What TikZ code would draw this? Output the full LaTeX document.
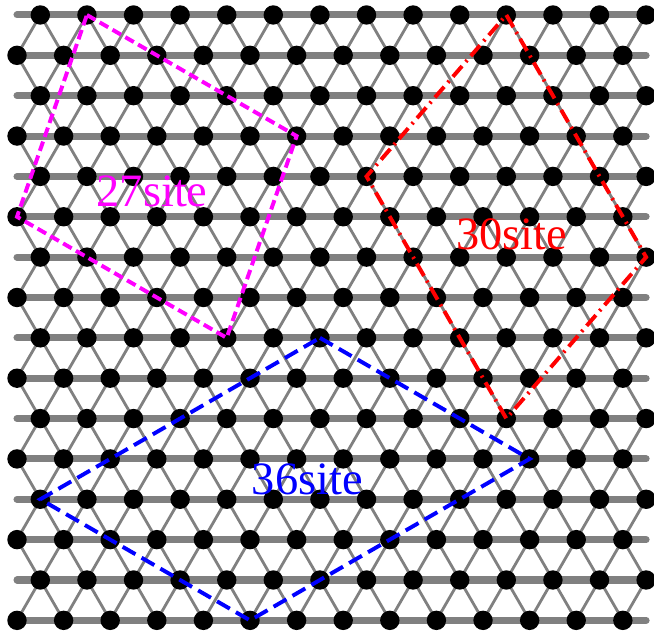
\documentclass[tikz,border=0pt]{standalone}
\usepackage{fontspec}
\setmainfont{Liberation Serif}
\definecolor{bondgray}{HTML}{808080}
\definecolor{cellmag}{HTML}{FF00FF}
\definecolor{cellred}{HTML}{FF0000}
\definecolor{cellblue}{HTML}{0000FF}
\tikzset{
	site/.style={circle, fill=black, inner sep=0pt, minimum size=0.485cm},
	rowbond/.style={draw=bondgray, line width=5pt, line cap=round},
	bond/.style={draw=bondgray, line width=2pt},
	cellA/.style={cellmag, line width=2.8pt, dash pattern=on 7pt off 3.5pt},
	cellB/.style={cellred, line width=2.8pt, dash pattern=on 10pt off 4pt on 1.5pt off 4pt},
	cellC/.style={cellblue, line width=2.8pt, dash pattern=on 10.5pt off 5pt},
	tag/.style={font=\fontsize{33}{40}\selectfont, anchor=base, inner sep=0pt},
}

\begin{document}
\begin{tikzpicture}[x=1.165cm, y=1.165cm]
	\useasboundingbox (-0.365,-0.365) rectangle (13.669,13.312);
	\foreach \j in {0,...,15}{
		\pgfmathsetmacro\rowy{(15-\j)*0.8660254}
		\coordinate (l-\j) at (0,\rowy);
		\coordinate (r-\j) at (13.5,\rowy);
		\foreach \k in {0,...,13}{
			\ifodd\j
				\coordinate (p-\j-\k) at (\k,\rowy);
			\else
				\coordinate (p-\j-\k) at (\k+0.5,\rowy);
			\fi
		}
	}
	\foreach \j in {0,...,15}
		\draw[rowbond] (l-\j) -- (r-\j);
	\foreach \j in {0,...,14}{
		\pgfmathtruncatemacro\jn{\j+1}
		\foreach \k in {0,...,13}{
			\pgfmathtruncatemacro\kl{\k-1}
			\pgfmathtruncatemacro\kr{\k+1}
			\ifodd\j
				\ifnum\k>0 \draw[bond] (p-\j-\k) -- (p-\jn-\kl); \fi
				\draw[bond] (p-\j-\k) -- (p-\jn-\k);
			\else
				\draw[bond] (p-\j-\k) -- (p-\jn-\k);
				\ifnum\k<13 \draw[bond] (p-\j-\k) -- (p-\jn-\kr); \fi
			\fi
		}
	}
	\foreach \j in {0,...,15}
		\foreach \k in {0,...,13}
			\node[site] (s-\j-\k) at (p-\j-\k) {};
	\draw[cellA] (p-0-1) -- (p-3-6) -- (p-8-4) -- (p-5-0) -- cycle;
	\draw[cellB] (p-0-10) -- (p-6-13) -- (p-10-10) -- (p-4-7) -- cycle;
	\draw[cellC] (p-8-6) -- (p-11-11) -- (p-15-5) -- (p-12-0) -- cycle;
	\node[tag, cellmag] (lab27) at (2.9,8.87) {27site};
	\node[tag, cellred] (lab30) at (10.62,7.95) {30site};
	\node[tag, cellblue] (lab36) at (6.23,2.69) {36site};
\end{tikzpicture}
\end{document}
